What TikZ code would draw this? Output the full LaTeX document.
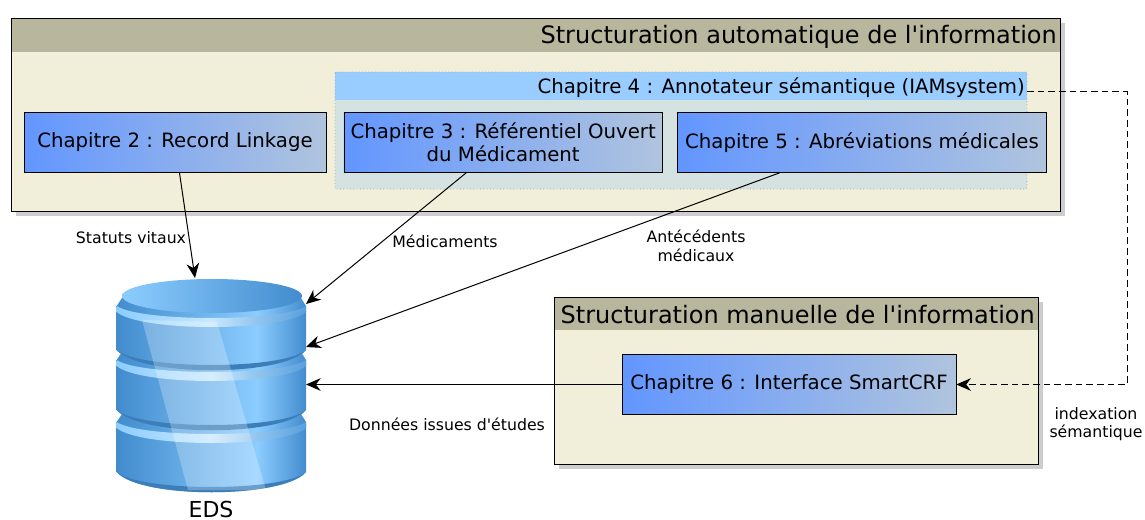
\documentclass[tikz,border=0pt]{standalone}
\usepackage{fontspec}
\setmainfont{DejaVu Sans}[Ligatures=TeXOff]
\usetikzlibrary{arrows.meta,positioning}
\definecolor{titre}{RGB}{184,182,156}
\definecolor{fond}{RGB}{241,238,217}
\definecolor{ombre}{RGB}{205,205,205}
\definecolor{fondgrp}{RGB}{212,227,226}
\definecolor{titregrp}{RGB}{153,204,255}
\definecolor{chapg}{RGB}{98,150,255}
\definecolor{chapd}{RGB}{176,196,222}
\definecolor{dbsombre}{RGB}{66,140,206}
\definecolor{dbclair}{RGB}{140,205,255}
\definecolor{dbpale}{RGB}{200,232,255}
\pgfdeclarehorizontalshading{dbcorps}{100bp}{color(0bp)=(dbsombre); color(25bp)=(dbsombre); color(62bp)=(dbclair); color(75bp)=(dbsombre); color(100bp)=(dbsombre)}
\newcommand\px{.75pt}
\newcommand\dbtier[2]{%
  \shade[shading=dbcorps]
    (116.7,#1) -- (116.7,#2) .. controls (140,#2+27) and (283,#2+27) .. (306,#2)
    -- (306,#1) -- (301,#1-8) -- (122,#1-8) -- cycle;%%
  \shade[left color=dbclair,right color=dbsombre!70!dbclair,middle color=dbpale]
    (116.7,#1) .. controls (140,#1+16) and (283,#1+16) .. (306,#1)
    -- (306,#1+6) .. controls (283,#1+26) and (140,#1+26) .. (116.7,#1+6) -- cycle;%%
  \fill[dbsombre!90!black]
    (116.7,#2) .. controls (140,#2+27) and (283,#2+27) .. (306,#2)
    .. controls (283,#2+20) and (140,#2+20) .. (116.7,#2) -- cycle;%%
}
\tikzset{
  chap/.style={draw=black,left color=chapg,right color=chapd,minimum height=60*\px,
    inner sep=0pt,align=center,font=\fontsize{14.8pt}{17pt}\selectfont},
  etiq/.style={align=center,font=\fontsize{11.8pt}{14pt}\selectfont},
  lien/.style={-{Stealth[length=11pt,width=9.5pt]},line width=.75pt},
}
\begin{document}
\begin{tikzpicture}[x=\px,y=-\px]%
        \useasboundingbox (0,0) rectangle (1145,520);%%
        %% panneau automatique
        \fill[ombre] (16,23) rectangle (1065,216);%%
        \fill[fond] (11,18) rectangle (1060,211);%%
        \fill[titre] (11,18) rectangle (1060,52);%%
        \draw[line width=.7pt] (11,18) rectangle (1060,211);%%
        \node[anchor=east,inner sep=0pt,font=\fontsize{18pt}{21pt}\selectfont] (tauto) at (1057,37) {Structuration automatique de l'information};%%
        %% groupe chapitre 4
        \fill[fondgrp] (335,72) rectangle (1027,189);%%
        \fill[titregrp] (335,72) rectangle (1027,100);%%
        \draw[draw=gray!80,dotted,line width=.5pt,rounded corners=1pt] (335,72) rectangle (1027,189);%%
        \node[anchor=east,inner sep=0pt,font=\fontsize{14.8pt}{17pt}\selectfont] (ch4) at (1025,88) {Chapitre 4 : Annotateur sémantique (IAMsystem)};%%
        %% panneau manuel
        \fill[ombre] (559,302) rectangle (1043,469);%%
        \fill[fond] (554,297) rectangle (1038,464);%%
        \fill[titre] (554,297) rectangle (1038,330);%%
        \draw[line width=.7pt] (554,297) rectangle (1038,464);%%
        \node[anchor=east,inner sep=0pt,font=\fontsize{18pt}{21pt}\selectfont] (tman) at (1035,314.5) {Structuration manuelle de l'information};%%
        %% chapitres
        \node[chap,minimum width=302*\px] (ch2) at (175,142.5) {Chapitre 2 : Record Linkage};%%
        \node[chap,minimum width=318.5*\px] (ch3) at (503.2,142.5) {Chapitre 3 : Référentiel Ouvert\\du Médicament};%%
        \node[chap,minimum width=369*\px] (ch5) at (862,142.5) {Chapitre 5 : Abréviations médicales};%%
        \node[chap,minimum width=334*\px] (ch6) at (789,384.5) {Chapitre 6 : Interface SmartCRF};%%
        %% base EDS
        \dbtier{422}{472}%%
        \dbtier{360}{410}%%
        \dbtier{306}{350}%%
        \begin{scope}
        \clip (116.7,310) -- (116.7,472) .. controls (140,499) and (283,499) .. (306,472) -- (306,310) -- cycle;%%
        \fill[white,opacity=.25] (142,320) -- (217,322) -- (266,490) -- (188,490) -- cycle;%%
        \end{scope}
        \shade[left color=dbclair,right color=dbsombre] (212,296) ellipse [x radius=90,y radius=17];%%
        \node[inner sep=0pt,font=\fontsize{16.5pt}{18pt}\selectfont] (eds) at (211,509) {EDS};%%
        \coordinate (dbhaut) at (195,278);%%
        \coordinate (dba) at (306,304);%%
        \coordinate (dbb) at (306,347);%%
        \coordinate (dbc) at (306,384.5);%%
        \coordinate (c4sortie) at (1027,92);%%
        \coordinate (coude1) at (1127,92);%%
        \coordinate (coude2) at (1127,384.5);%%
        %% etiquettes
        \node[etiq] (lstat) at (131,238) {Statuts vitaux};%%
        \node[etiq] (lmed) at (445,241) {Médicaments};%%
        \node[etiq] (lant) at (696,246) {Antécédents\\médicaux};%%
        \node[etiq] (ldon) at (447,424) {Données issues d'études};%%
        \node[etiq] (lidx) at (1096,424) {indexation\\sémantique};%%
        %% liens
        \draw[lien] (ch2)--(dbhaut);%%
        \draw[lien] (ch3)--(dba);%%
        \draw[lien] (ch5)--(dbb);%%
        \draw[lien] (ch6)--(dbc);%%
        \draw[lien,dash pattern=on 5pt off 3pt] (c4sortie)--(coude1)--(coude2)--(ch6);%%
\end{tikzpicture}
\end{document}
